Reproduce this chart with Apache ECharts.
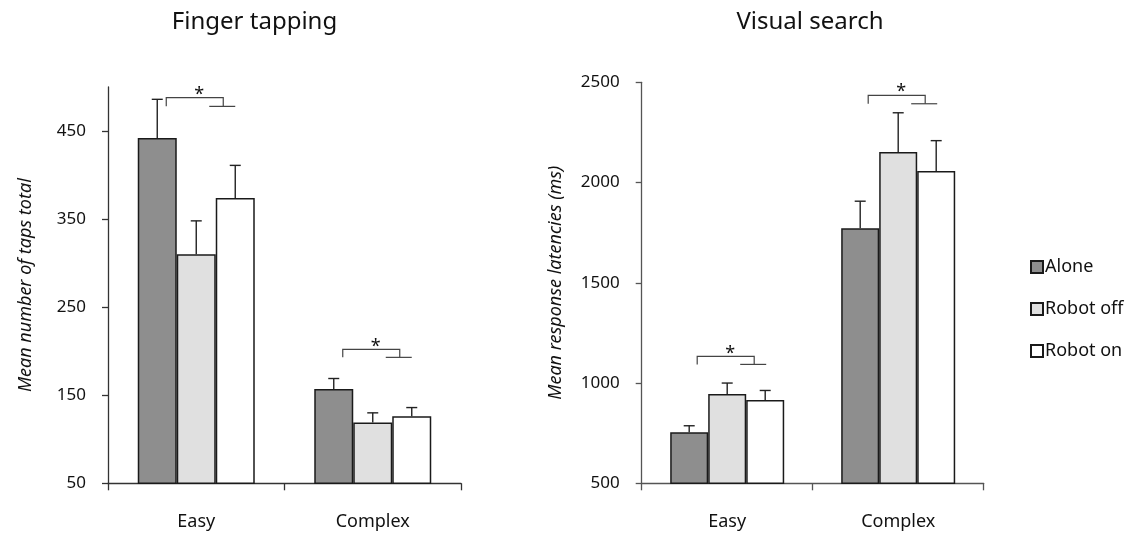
<!DOCTYPE html>
<html><head><meta charset="utf-8">
<script src="https://cdn.jsdelivr.net/npm/echarts@6/dist/echarts.min.js"></script>
<style>html,body{margin:0;padding:0;background:#fff}#c{width:1129px;height:533px}</style>
</head><body><div id="c"></div>
<script>
const categories = ['Easy', 'Complex'];
const seriesNames = ['Alone', 'Robot off', 'Robot on'];
// Finger tapping (taps total)
const tapAlone = [442, 157];
const tapRobotOff = [310, 119];
const tapRobotOn = [374, 126];
const tapAloneErr = [44, 12];
const tapRobotOffErr = [38, 11];
const tapRobotOnErr = [37, 10];
const tapTicks = [50, 150, 250, 350, 450];
// Visual search (ms)
const searchAlone = [754, 1772];
const searchRobotOff = [945, 2152];
const searchRobotOn = [915, 2058];
const searchAloneErr = [33, 135];
const searchRobotOffErr = [55, 196];
const searchRobotOnErr = [48, 151];
const searchTicks = [500, 1000, 1500, 2000, 2500];
// significance brackets: [category index, bracket top value, arm end value]
const tapBrackets = [[0, 488, 478], [1, 202, 193]];
const searchBrackets = [[0, 1133, 1093], [1, 2435, 2393]];

const FONT = '"Noto Sans", "Open Sans", sans-serif';
const colors = ['#8e8e8e', '#e0e0e0', '#ffffff'];
const TXT = '#111';

function errData(means, errs) {
  const out = [];
  means.forEach((arr, k) => arr.forEach((v, c) => out.push([c, k, v, errs[k][c]])));
  return out;
}
function errRender(bw) {
  return function (params, api) {
    const cat = api.value(0), k = api.value(1), m = api.value(2), e = api.value(3);
    const base = api.coord([cat, m]);
    const top = api.coord([cat, m + e]);
    const x = base[0] + (k - 1) * bw;
    const st = { stroke: '#222', lineWidth: 1.4 };
    return { type: 'group', children: [
      { type: 'line', shape: { x1: x, y1: base[1], x2: x, y2: top[1] }, style: st },
      { type: 'line', shape: { x1: x - 5.5, y1: top[1], x2: x + 5.5, y2: top[1] }, style: st }
    ] };
  };
}
function bracketRender(params, api) {
  const cat = api.value(0);
  const t = api.coord([cat, api.value(1)]);
  const b = api.coord([cat, api.value(2)]);
  const cx = t[0];
  const st = { stroke: '#444', lineWidth: 1.2, fill: null };
  return { type: 'group', children: [
    { type: 'polyline', shape: { points: [[cx - 30, b[1]], [cx - 30, t[1]], [cx + 27, t[1]], [cx + 27, b[1]]] }, style: st },
    { type: 'line', shape: { x1: cx + 13, y1: b[1], x2: cx + 39, y2: b[1] }, style: st },
    { type: 'text', x: cx + 3, y: t[1] - 3, style: { text: '*', fontSize: 18, fontFamily: FONT, fill: TXT, align: 'center', verticalAlign: 'middle' } }
  ] };
}

function barSeries(vals, k, gi, bw) {
  return {
    name: seriesNames[k], type: 'bar', data: vals, xAxisIndex: gi, yAxisIndex: gi,
    barWidth: bw, barGap: '0%',
    itemStyle: { color: colors[k], borderColor: '#1a1a1a', borderWidth: 1.5 },
    emphasis: { disabled: true }, z: 2
  };
}

function xAxisCfg(gi, lineColor) {
  return {
    type: 'category', gridIndex: gi, data: categories, boundaryGap: true,
    axisLine: { lineStyle: { color: lineColor, width: 1.3 } },
    axisTick: { show: true, length: 7, inside: false, lineStyle: { color: lineColor, width: 1.3 } },
    axisLabel: { color: TXT, fontSize: 18, fontFamily: FONT, margin: 30 },
    splitLine: { show: false }
  };
}
function yAxisCfg(gi, min, max, ticks, name, gap, lineColor) {
  return {
    type: 'value', gridIndex: gi, min: min, max: max,
    name: name, nameLocation: 'middle', nameRotate: 90, nameGap: gap,
    nameTextStyle: { color: TXT, fontSize: 18, fontStyle: 'italic', fontFamily: FONT },
    axisLine: { show: true, lineStyle: { color: lineColor, width: 1.3 } },
    axisTick: { show: true, length: 6, lineStyle: { color: lineColor, width: 1.3 }, customValues: ticks },
    axisLabel: { color: TXT, fontSize: 17, fontFamily: FONT, margin: 22, customValues: ticks,
      formatter: v => String(v) },
    splitLine: { show: false }
  };
}

const chart = echarts.init(document.getElementById('c'), null, { renderer: 'canvas' });
chart.setOption({
  animation: false,
  backgroundColor: '#fff',
  textStyle: { fontFamily: FONT },
  graphic: [
    { type: 'text', x: 254.5, y: 22, style: { text: 'Finger tapping', fontSize: 24, fontFamily: FONT, fill: TXT, align: 'center', verticalAlign: 'middle' } },
    { type: 'text', x: 810, y: 22, style: { text: 'Visual search', fontSize: 24, fontFamily: FONT, fill: TXT, align: 'center', verticalAlign: 'middle' } }
  ],
  legend: {
    orient: 'vertical', left: 1025, top: 253,
    itemWidth: 12, itemHeight: 12, itemGap: 24,
    data: seriesNames, icon: 'rect',
    textStyle: { color: TXT, fontSize: 18, fontFamily: FONT, lineHeight: 18, padding: [0, 0, 0, -3] },
    selectedMode: false
  },
  grid: [
    { left: 108, top: 87, width: 353, height: 396.3 },
    { left: 641.7, top: 82.3, width: 342, height: 401 }
  ],
  xAxis: [xAxisCfg(0, '#333'), xAxisCfg(1, '#555')],
  yAxis: [
    yAxisCfg(0, 50, 500, tapTicks, 'Mean number of taps total', 73, '#333'),
    yAxisCfg(1, 500, 2500, searchTicks, 'Mean response latencies (ms)', 77, '#555')
  ],
  series: [
    barSeries(tapAlone, 0, 0, 39), barSeries(tapRobotOff, 1, 0, 39), barSeries(tapRobotOn, 2, 0, 39),
    barSeries(searchAlone, 0, 1, 38), barSeries(searchRobotOff, 1, 1, 38), barSeries(searchRobotOn, 2, 1, 38),
    { type: 'custom', xAxisIndex: 0, yAxisIndex: 0, z: 5, renderItem: errRender(39),
      encode: { x: 0, y: 2 }, silent: true,
      data: errData([tapAlone, tapRobotOff, tapRobotOn], [tapAloneErr, tapRobotOffErr, tapRobotOnErr]) },
    { type: 'custom', xAxisIndex: 1, yAxisIndex: 1, z: 5, renderItem: errRender(38),
      encode: { x: 0, y: 2 }, silent: true,
      data: errData([searchAlone, searchRobotOff, searchRobotOn], [searchAloneErr, searchRobotOffErr, searchRobotOnErr]) },
    { type: 'custom', xAxisIndex: 0, yAxisIndex: 0, z: 5, renderItem: bracketRender,
      encode: { x: 0, y: 1 }, silent: true, data: tapBrackets },
    { type: 'custom', xAxisIndex: 1, yAxisIndex: 1, z: 5, renderItem: bracketRender,
      encode: { x: 0, y: 1 }, silent: true, data: searchBrackets }
  ]
});
</script></body></html>
